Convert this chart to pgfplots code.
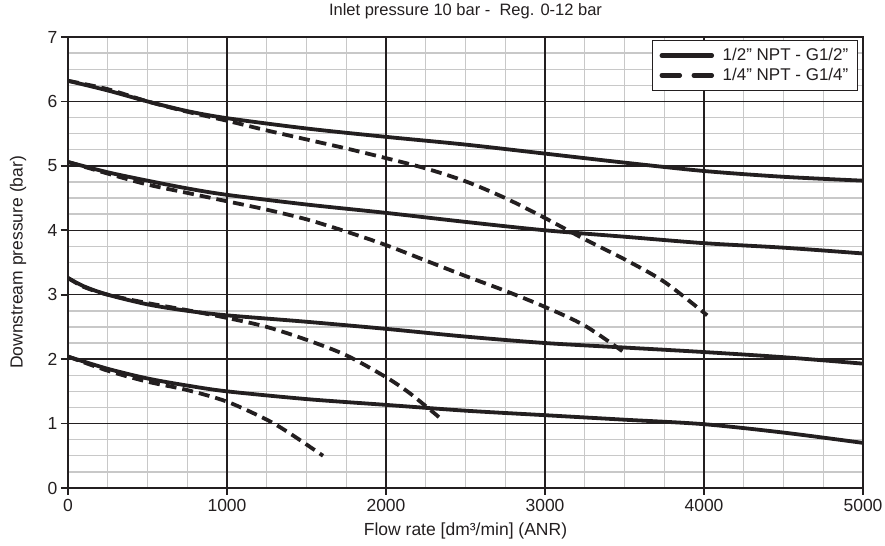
\documentclass[border=0pt]{standalone}
\usepackage{fontspec}
\setmainfont{Liberation Sans}
\usepackage{pgfplots}
\pgfplotsset{compat=1.18}
\usetikzlibrary{calc}
\definecolor{ink}{HTML}{231F20}
\definecolor{minorg}{HTML}{C8C8C8}

\begin{document}
\begin{tikzpicture}
\begin{axis}[
  name=ax,
  scale only axis,
  width=795pt, height=451pt,
  xmin=0, xmax=5000, ymin=0, ymax=7,
  xtick={0,1000,...,5000},
  ytick={0,1,...,7},
  minor x tick num=3,
  minor y tick num=3,
  grid=minor,
  minor grid style={line width=1.4pt, draw=minorg},
  extra x ticks={1000,2000,3000,4000},
  extra y ticks={1,2,3,4,5,6},
  extra x tick labels={}, extra y tick labels={},
  extra tick style={grid=major, major grid style={line width=1.5pt, draw=ink}},
  axis line style={line width=1.9pt, draw=ink},
  tick style={line width=1.6pt, draw=ink},
  major tick length=7pt,
  minor tick length=0pt,
  tick align=outside,
  xtick pos=bottom, ytick pos=left,
  /pgf/number format/assume math mode=true,
  /pgf/number format/set thousands separator={},
  tick label style={font=\fontsize{17.5}{20}\selectfont, text=ink},
  xticklabel style={yshift=-1pt},
  title={Inlet pressure 10 bar -\ \ Reg. 0-12 bar},
  title style={font=\fontsize{16.5}{19}\selectfont, text=ink,
    at={(axis description cs:0.5,1.0443)}, anchor=center},
  xlabel={Flow rate [dm³/min] (ANR)},
  xlabel style={font=\fontsize{17.5}{20}\selectfont, text=ink,
    at={(axis description cs:0.5,-0.0953)}, anchor=center},
  ylabel={Downstream pressure (bar)},
  ylabel style={font=\fontsize{17.5}{20}\selectfont, text=ink,
    at={(axis description cs:-0.0629,0.5)}, anchor=center},
  legend style={at={(0.9937,0.9933)}, anchor=north east, draw=ink, line width=1.3pt,
    font=\fontsize{17}{20}\selectfont, text=ink, inner xsep=7pt, inner ysep=6pt,
    row sep=2pt, cells={anchor=west}},
  legend image code/.code={\draw[#1, line width=4.5pt, line cap=round] (0pt,0pt) -- (50pt,0pt); \path (57pt,0pt);},
  every axis plot/.append style={smooth, line width=3.8pt, draw=ink},
]
% 1/2" NPT - G1/2"
\addplot[solid] coordinates {(0,6.32)(250,6.17)(500,6.0)(750,5.85)(1000,5.74)(1500,5.58)(2000,5.45)(2500,5.33)(3000,5.19)(3500,5.05)(4000,4.92)(4500,4.83)(5000,4.77)};
\addlegendentry{1/2” NPT - G1/2"}
\addplot[dash pattern=on 11pt off 6pt, legend image post style={dash pattern=on 18pt off 14pt}] coordinates {(0,6.32)(250,6.19)(500,6.0)(750,5.84)(1000,5.70)(1250,5.55)(1500,5.41)(1750,5.27)(2000,5.12)(2250,4.96)(2500,4.76)(2750,4.50)(3000,4.19)(3250,3.86)(3500,3.55)(3750,3.2)(4020,2.68)};
\addlegendentry{1/4” NPT - G1/4"}

\addplot[solid] coordinates {(0,5.06)(250,4.9)(500,4.77)(750,4.65)(1000,4.55)(1500,4.4)(2000,4.27)(2500,4.13)(3000,4.0)(3500,3.9)(4000,3.8)(4500,3.73)(5000,3.64)};
\addplot[dash pattern=on 11pt off 6pt] coordinates {(0,5.06)(250,4.88)(500,4.71)(750,4.58)(1000,4.45)(1250,4.32)(1500,4.17)(1750,3.98)(2000,3.77)(2250,3.53)(2500,3.29)(2750,3.06)(3000,2.81)(3250,2.52)(3500,2.1)};

\addplot[solid] coordinates {(0,3.26)(100,3.13)(250,3.0)(500,2.85)(750,2.75)(1000,2.68)(1500,2.58)(2000,2.47)(2500,2.35)(3000,2.25)(3500,2.18)(4000,2.11)(4500,2.03)(5000,1.93)};
\addplot[dash pattern=on 11pt off 6pt] coordinates {(0,3.26)(100,3.12)(250,3.0)(500,2.87)(750,2.76)(1000,2.64)(1250,2.5)(1500,2.3)(1750,2.06)(2000,1.72)(2150,1.47)(2333,1.1)};

\addplot[solid] coordinates {(0,2.04)(250,1.85)(500,1.7)(750,1.59)(1000,1.5)(1500,1.38)(2000,1.29)(2500,1.2)(3000,1.13)(3500,1.06)(4000,0.99)(4500,0.86)(5000,0.70)};
\addplot[dash pattern=on 11pt off 6pt] coordinates {(0,2.04)(250,1.82)(500,1.65)(750,1.52)(1000,1.34)(1250,1.06)(1400,0.84)(1604,0.5)};
\end{axis}
\pgfresetboundingbox
\path ($(ax.south west)+(-68pt,-58pt)$) rectangle ($(ax.north east)+(22pt,37pt)$);
\end{tikzpicture}
\end{document}
